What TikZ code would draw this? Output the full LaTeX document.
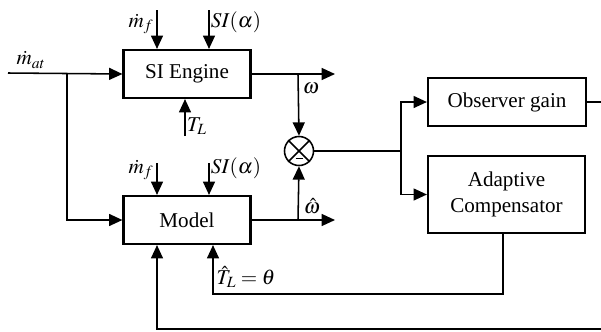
\documentclass[tikz,border=0pt]{standalone}
\usepackage{mathptmx}
\usepackage{fontspec}
\setmainfont{Liberation Serif}
\usetikzlibrary{arrows.meta}

\tikzset{
  block/.style={draw, line width=1.5pt, minimum width=3.175cm, minimum height=1.2cm, align=center, inner sep=2pt},
  wire/.style={line width=1.1pt},
  arrow/.style={wire, -{Triangle[length=9.5pt,width=8.5pt]}},
  lbl/.style={inner sep=0pt}
}

\begin{document}
\begin{tikzpicture}[x=0.025cm, y=-0.025cm, font=\fontsize{15}{18}\selectfont]
        \useasboundingbox (0,0) rectangle (601,331);

        % Draw the blocks
        \node[block] (engine) at (187,74) {SI Engine};
        \node[block] (model) at (187,220) {Model};
        \node[block, minimum width=3.95cm] (gain) at (507,102) {Observer gain};
        \node[block, minimum width=3.925cm, minimum height=1.925cm] (comp) at (506.5,194.5) {Adaptive\\Compensator};
        \node[draw, circle, line width=1.1pt, minimum size=0.725cm, inner sep=0pt] (mult) at (299,151) {};
        \draw[wire] (mult.north east) -- (mult.south west);
        \draw[wire] (mult.north west) -- (mult.south east);
        \coordinate (minusl) at (295.5,158.5);
        \coordinate (minusr) at (302.5,158.5);
        \draw[line width=1.2pt] (minusl) -- (minusr);

        % Points on the wires
        \coordinate (mat) at (8,73);
        \coordinate (split) at (67,73);
        \coordinate (mfa) at (157,10);
        \coordinate (sia) at (209,10);
        \coordinate (tl) at (185,136);
        \coordinate (mfb) at (157,163);
        \coordinate (sib) at (209,163);
        \coordinate (wend) at (335,74);
        \coordinate (wtap) at (298,74);
        \coordinate (whend) at (335,220);
        \coordinate (whtap) at (298,220);
        \coordinate (fork) at (401,151);
        \coordinate (gend) at (601,102);
        \coordinate (cdown) at (503,294);
        \coordinate (theta) at (213,294);
        \coordinate (bend) at (601,329);
        \coordinate (bback) at (157,329);

        % Draw the inputs
        \draw[arrow] (mat) -- (engine.west);
        \draw[arrow] (split) |- (model.west);
        \draw[arrow] (mfa) -- (mfa |- engine.north);
        \draw[arrow] (sia) -- (sia |- engine.north);
        \draw[arrow] (tl) -- (tl |- engine.south);
        \draw[arrow] (mfb) -- (mfb |- model.north);
        \draw[arrow] (sib) -- (sib |- model.north);

        % Draw the outputs
        \draw[arrow] (engine.east |- wend) -- (wend);
        \draw[arrow] (wtap) -- (mult.north);
        \draw[arrow] (model.east |- whend) -- (whend);
        \draw[arrow] (whtap) -- (mult.south);
        \draw[wire] (mult.east) -- (fork);
        \draw[arrow] (fork) |- (gain.west);
        \draw[arrow] (fork) |- (comp.west);
        \draw[wire] (gain.east) -- (gend);

        % Draw the feedback
        \draw[arrow] (comp.south -| cdown) -- (cdown) -- (theta) -- (theta |- model.south);
        \draw[arrow] (bend) -- (bback) -- (bback |- model.south);

        % Labels
        \node[lbl] (lmat) at (31,60) {$\dot{m}_{at}$};
        \node[lbl] (lmfa) at (141,24) {$\dot{m}_f$};
        \node[lbl] (lsia) at (236,22) {$SI(\alpha)$};
        \node[lbl] (ltl) at (197,126) {$T_L$};
        \node[lbl] (lmfb) at (141,170) {$\dot{m}_f$};
        \node[lbl] (lsib) at (236,168) {$SI(\alpha)$};
        \node[lbl] (lw) at (311,88) {$\omega$};
        \node[lbl] (lwh) at (312,206) {$\hat{\omega}$};
        \node[lbl] (ltheta) at (246,277) {$\hat{T}_L=\theta$};
    \end{tikzpicture}
\end{document}
